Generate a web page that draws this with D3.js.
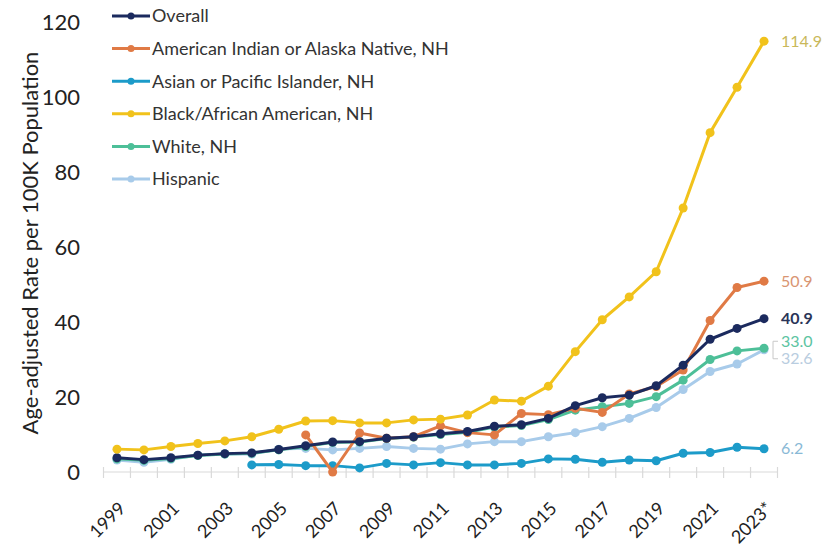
<!DOCTYPE html>
<html>
<head>
<meta charset="utf-8">
<script src="https://cdn.jsdelivr.net/npm/d3@7"></script>
<style>
  body { margin: 0; background: #fff; }
  text { font-family: Lato, "Open Sans", sans-serif; }
</style>
</head>
<body>
<div id="chart"></div>
<script>
const years = d3.range(1999, 2024);
const yTicks = [0, 20, 40, 60, 80, 100, 120];

const overall = [3.8, 3.3, 3.8, 4.5, 4.9, 5.1, 6.0, 7.0, 8.0, 8.1, 9.0, 9.4, 10.2, 10.8, 12.2, 12.6, 14.3, 17.7, 19.8, 20.5, 23.0, 28.5, 35.4, 38.3, 40.9];
const aian = [null, null, null, null, null, null, null, 9.9, 0.0, 10.4, 9.0, 9.4, 12.3, 10.5, 9.9, 15.6, 15.3, 17.0, 15.9, 20.8, 22.8, 27.2, 40.4, 49.2, 50.9];
const asian = [null, null, null, null, null, 1.9, 2.0, 1.7, 1.7, 1.1, 2.3, 1.9, 2.5, 1.9, 1.9, 2.3, 3.5, 3.4, 2.6, 3.2, 3.0, 5.0, 5.2, 6.6, 6.2];
const black = [6.1, 5.9, 6.8, 7.6, 8.3, 9.4, 11.4, 13.6, 13.7, 13.1, 13.1, 13.9, 14.1, 15.2, 19.2, 18.9, 22.9, 32.1, 40.6, 46.7, 53.4, 70.4, 90.5, 102.6, 114.9];
const white = [3.5, 3.1, 3.6, 4.4, 4.8, 5.0, 5.9, 6.8, 7.9, 8.0, 8.9, 9.3, 10.0, 10.6, 12.0, 12.4, 14.0, 16.5, 17.4, 18.3, 20.1, 24.5, 30.0, 32.3, 33.0];
const hispanic = [3.2, 2.6, 3.4, 4.5, 4.8, 4.8, 6.1, 6.3, 5.9, 6.3, 6.8, 6.3, 6.1, 7.5, 8.1, 8.1, 9.4, 10.5, 12.1, 14.3, 17.2, 22.0, 26.8, 28.8, 32.6];

const seriesNames = ["Overall", "American Indian or Alaska Native, NH", "Asian or Pacific Islander, NH", "Black/African American, NH", "White, NH", "Hispanic"];
const seriesValues = [overall, aian, asian, black, white, hispanic];
const lineColors = ["#1b2a5e", "#e07a45", "#1c9bc9", "#f1c21b", "#4dbf98", "#a8cbea"];
const labelColors = ["#2a3558", "#d99572", "#8ab9d6", "#c9b85a", "#5cc4a2", "#b9cde0"];
// nudges to keep the two close end labels apart
const labelNudge = [0, 0, 0, 0, -7, 9];

const W = 829, H = 550;
const svg = d3.select("#chart").append("svg").attr("width", W).attr("height", H);

const x = d3.scaleBand().domain(years).range([103.5, 777.5]).padding(0);
const cx = d => x(d) + x.bandwidth() / 2;
const y = d3.scaleLinear().domain([0, 120]).range([472, 22]);

// y axis labels (no line)
const yAxis = svg.append("g")
    .attr("transform", "translate(80,0)")
    .call(d3.axisLeft(y).tickValues(yTicks).tickSize(0).tickPadding(0));
yAxis.select(".domain").remove();
yAxis.selectAll("text").attr("font-size", 22).attr("fill", "#222");

svg.append("text")
    .attr("transform", "translate(30,243) rotate(-90)")
    .attr("text-anchor", "middle")
    .attr("dy", "0.35em")
    .attr("font-size", 22)
    .attr("fill", "#222")
    .text("Age-adjusted Rate per 100K Population");

// x axis: light line with ticks between categories
const xg = svg.append("g");
xg.append("line")
    .attr("x1", x.range()[0]).attr("x2", x.range()[1])
    .attr("y1", y(0)).attr("y2", y(0))
    .attr("stroke", "#d9d9d9").attr("stroke-width", 1.2);
xg.selectAll(".tk")
    .data(years.concat([2024]))
    .join("line")
    .attr("x1", d => d === 2024 ? x.range()[1] : x(d))
    .attr("x2", d => d === 2024 ? x.range()[1] : x(d))
    .attr("y1", y(0) - 5).attr("y2", y(0) + 6)
    .attr("stroke", "#d9d9d9").attr("stroke-width", 1.2);

const xAxis = svg.append("g")
    .attr("transform", `translate(0,${y(0)})`)
    .call(d3.axisBottom(x).tickValues(years.filter(d => (d - 1999) % 2 === 0)).tickSize(0)
        .tickFormat(d => d === 2023 ? "2023*" : d));
xAxis.select(".domain").remove();
xAxis.selectAll("text")
    .attr("font-size", 18)
    .attr("fill", "#222")
    .attr("text-anchor", "end")
    .attr("dy", "0.35em")
    .attr("transform", "translate(3,31) rotate(-45)");

// lines and markers
const line = d3.line()
    .defined(d => d.v !== null)
    .x(d => cx(d.year))
    .y(d => y(d.v));

const order = [5, 4, 2, 1, 0, 3];
order.forEach(i => {
    const pts = years.map((yr, j) => ({year: yr, v: seriesValues[i][j]}));
    const g = svg.append("g");
    g.append("path")
        .datum(pts)
        .attr("fill", "none")
        .attr("stroke", lineColors[i])
        .attr("stroke-width", 3)
        .attr("stroke-linejoin", "round")
        .attr("d", line);
    g.selectAll("circle")
        .data(pts.filter(d => d.v !== null))
        .join("circle")
        .attr("cx", d => cx(d.year))
        .attr("cy", d => y(d.v))
        .attr("r", 4.5)
        .attr("fill", lineColors[i]);
});

// end labels
seriesValues.forEach((vals, i) => {
    const last = vals[vals.length - 1];
    svg.append("text")
        .attr("x", cx(2023) + 17)
        .attr("y", y(last) + labelNudge[i])
        .attr("dy", "0.35em")
        .attr("font-size", 16)
        .attr("fill", labelColors[i])
        .attr("font-weight", i === 0 ? "bold" : "normal")
        .text(last.toFixed(1));
});
// small bracket tying the two close labels
const by1 = y(white[white.length - 1]) - 7, by2 = y(hispanic[hispanic.length - 1]) + 9;
svg.append("path")
    .attr("d", `M${cx(2023) + 14},${by1} H${cx(2023) + 9} V${by2} H${cx(2023) + 14}`)
    .attr("fill", "none").attr("stroke", "#c8c8c8").attr("stroke-width", 1);

// legend
const legend = svg.append("g");
seriesNames.forEach((name, i) => {
    const ly = 16 + i * 32.6;
    legend.append("line")
        .attr("x1", 112).attr("x2", 150).attr("y1", ly).attr("y2", ly)
        .attr("stroke", lineColors[i]).attr("stroke-width", 3);
    legend.append("circle")
        .attr("cx", 131).attr("cy", ly).attr("r", 3.5).attr("fill", lineColors[i]);
    legend.append("text")
        .attr("x", 152).attr("y", ly).attr("dy", "0.35em")
        .attr("font-size", 18).attr("fill", "#333")
        .text(name);
});
</script>
</body>
</html>
